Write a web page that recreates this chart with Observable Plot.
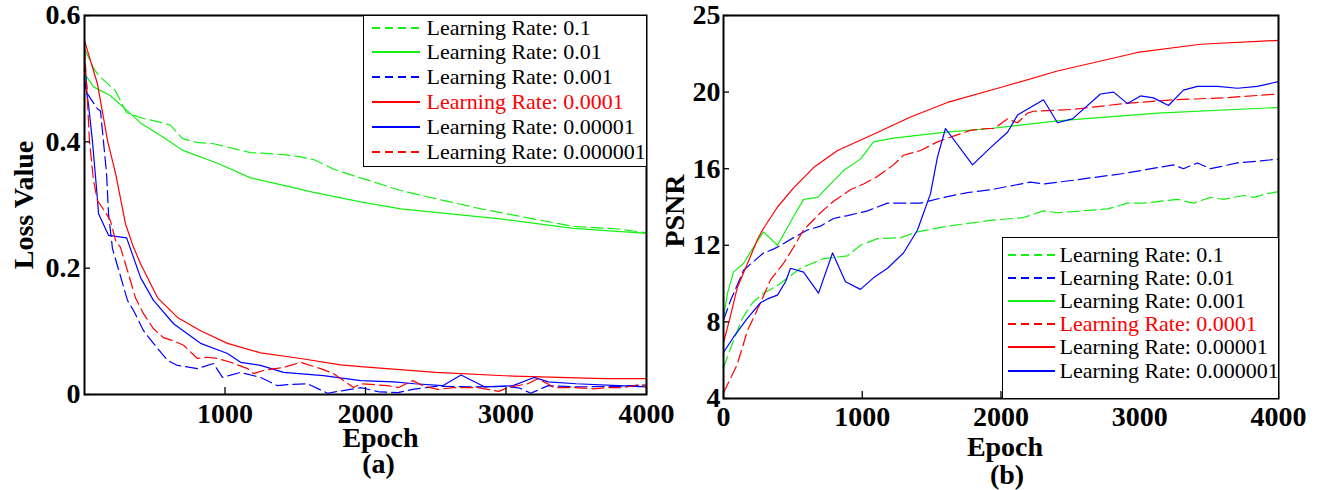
<!DOCTYPE html>
<html><head><meta charset="utf-8">
<script src="https://cdn.jsdelivr.net/npm/d3@7"></script>
<script src="https://cdn.jsdelivr.net/npm/@observablehq/plot@0.6"></script>
<style>
body{margin:0;background:#fff;}
#root{position:relative;width:1317px;height:490px;overflow:hidden;font-family:"Liberation Serif","Times New Roman",serif;background:#fff;}
.panel{position:absolute;top:0;}
.legend{position:absolute;background:#fff;border:1.5px solid #000;box-sizing:border-box;font-family:"Liberation Serif","Times New Roman",serif;}
.legend .row{position:absolute;height:24px;display:flex;align-items:center;white-space:nowrap;font-size:22px;line-height:24px;color:#000;font-family:"Liberation Serif","Times New Roman",serif;}
</style></head><body><div id="root"></div>
<script>
// ---------- tick values / labels ----------
const epochTicksA = [1000, 2000, 3000, 4000];
const epochTicksB = [0, 1000, 2000, 3000, 4000];
const lossTicks = [0, 0.2, 0.4, 0.6];
const lossTickLabels = ["0", "0.2", "0.4", "0.6"];
const psnrTicks = [4, 8, 12, 16, 20, 24];
const psnrTickLabels = ["4", "8", "12", "16", "20", "25"];
const rates = ["0.1", "0.01", "0.001", "0.0001", "0.00001", "0.000001"];

// ---------- (a) loss curves: [epoch, loss] ----------
const loss_0_1 = [[0,0.547],[64,0.517],[100,0.505],[220,0.481],[300,0.446],[420,0.437],[560,0.43],[613,0.426],[698,0.405],[800,0.399],[920,0.397],[1180,0.383],[1400,0.38],[1520,0.377],[1630,0.372],[1700,0.365],[1770,0.357],[1920,0.346],[2250,0.323],[2500,0.31],[2820,0.294],[3100,0.282],[3480,0.266],[3800,0.262],[4000,0.256]];
const loss_0_01 = [[0,0.508],[64,0.487],[185,0.473],[306,0.449],[399,0.43],[541,0.41],[705,0.386],[947,0.366],[1182,0.343],[1417,0.331],[1630,0.32],[1966,0.305],[2250,0.294],[2960,0.278],[3480,0.263],[4000,0.255]];
const loss_0_001 = [[0,0.53],[21,0.476],[93,0.452],[114,0.449],[157,0.35],[171,0.286],[199,0.231],[306,0.149],[349,0.133],[420,0.101],[491,0.081],[591,0.054],[662,0.046],[804,0.041],[918,0.049],[982,0.027],[1111,0.035],[1253,0.027],[1374,0.014],[1467,0.016],[1588,0.017],[1730,0.002],[1966,0.011],[2100,0.004],[2230,0.003],[2336,0.008],[2500,0.013],[2800,0.012],[3000,0.013],[3100,0.01],[3176,0.002],[3300,0.014],[3500,0.012],[3800,0.013],[4000,0.015]];
const loss_0_0001 = [[0,0.56],[92,0.492],[164,0.402],[221,0.35],[292,0.27],[349,0.233],[399,0.207],[520,0.153],[662,0.122],[826,0.101],[1018,0.081],[1253,0.066],[1538,0.057],[1823,0.047],[1966,0.044],[2500,0.035],[3055,0.029],[3700,0.025],[4000,0.025]];
const loss_0_00001 = [[0,0.5],[28,0.46],[57,0.4],[92,0.31],[100,0.286],[171,0.252],[300,0.248],[399,0.185],[491,0.149],[634,0.112],[826,0.081],[1018,0.065],[1111,0.051],[1253,0.046],[1417,0.035],[1700,0.03],[1966,0.022],[2200,0.02],[2350,0.017],[2550,0.014],[2680,0.031],[2850,0.012],[3050,0.014],[3200,0.027],[3300,0.02],[3500,0.017],[3800,0.014],[4000,0.012]];
const loss_0_000001 = [[0,0.55],[21,0.465],[35,0.402],[64,0.339],[92,0.307],[150,0.288],[185,0.275],[221,0.244],[256,0.233],[306,0.196],[363,0.153],[420,0.128],[491,0.104],[562,0.09],[634,0.085],[705,0.078],[804,0.057],[875,0.059],[947,0.057],[1040,0.051],[1161,0.041],[1203,0.033],[1274,0.038],[1417,0.043],[1467,0.046],[1538,0.051],[1680,0.041],[1773,0.033],[1915,0.011],[1966,0.017],[2037,0.016],[2158,0.014],[2236,0.011],[2336,0.022],[2407,0.014],[2514,0.008],[2628,0.011],[2799,0.011],[2949,0.005],[3013,0.011],[3155,0.017],[3226,0.025],[3297,0.017],[3340,0.011],[3482,0.011],[3625,0.009],[3725,0.011],[3839,0.011],[3960,0.016],[4000,0.011]];

// ---------- (b) PSNR curves: [epoch, psnr] ----------
const psnr_0_1 = [[0,5.6],[65,6.9],[137,8.2],[209,9.0],[288,9.5],[389,9.9],[555,10.8],[720,11.3],[894,11.45],[987,12.0],[1110,12.35],[1276,12.4],[1398,12.7],[1614,13.0],[1924,13.3],[2162,13.45],[2306,13.8],[2407,13.7],[2768,13.9],[2912,14.2],[3027,14.2],[3272,14.4],[3387,14.2],[3510,14.5],[3604,14.4],[3748,14.6],[3820,14.5],[3921,14.7],[4000,14.8]];
const psnr_0_01 = [[0,8.1],[50,9.1],[122,10.3],[144,10.7],[288,11.6],[360,11.8],[411,12.0],[505,12.4],[605,12.8],[699,13.0],[793,13.4],[894,13.55],[1038,13.8],[1182,14.2],[1276,14.2],[1420,14.2],[1585,14.5],[1758,14.75],[1924,14.9],[2213,15.3],[2306,15.2],[2523,15.4],[2883,15.75],[3243,16.2],[3315,16.0],[3416,16.3],[3510,16.0],[3704,16.3],[4000,16.5]];
const psnr_0_001 = [[0,8.2],[29,9.5],[72,10.6],[144,11.05],[216,11.9],[288,12.7],[389,12.0],[505,13.5],[577,14.4],[678,14.5],[865,15.9],[987,16.5],[1081,17.4],[1225,17.6],[1585,17.9],[1924,18.1],[2407,18.5],[3128,18.9],[4000,19.2]];
const psnr_0_0001 = [[0,4.3],[100,5.8],[173,7.55],[267,9.0],[339,10.2],[432,11.05],[505,11.9],[577,12.8],[699,13.7],[793,14.3],[915,14.9],[1009,15.2],[1110,15.6],[1225,16.2],[1297,16.7],[1420,16.95],[1542,17.4],[1657,17.7],[1780,18.0],[1902,18.1],[1950,18.1],[2047,18.6],[2119,18.4],[2191,18.9],[2234,19.0],[2523,19.1],[2883,19.4],[3243,19.6],[3604,19.7],[4000,19.9]];
const psnr_0_00001 = [[0,6.9],[50,8.3],[100,9.8],[173,11.05],[245,12.3],[281,12.8],[389,14.0],[505,15.0],[649,16.06],[822,16.95],[1081,17.8],[1348,18.7],[1614,19.46],[1996,20.24],[2407,21.1],[2984,22.07],[3438,22.5],[4000,22.7]];
const psnr_0_000001 = [[0,6.4],[72,7.2],[173,8.2],[267,9.0],[317,9.2],[389,9.4],[447,10.1],[483,10.8],[577,10.6],[685,9.5],[786,11.6],[879,10.1],[987,9.7],[1081,10.3],[1182,10.8],[1297,11.6],[1398,12.8],[1492,14.7],[1542,16.6],[1600,18.1],[1795,16.2],[1924,17.1],[2047,17.9],[2119,18.8],[2306,19.6],[2407,18.4],[2515,18.6],[2717,19.9],[2811,20.0],[2912,19.4],[3005,19.8],[3099,19.7],[3207,19.3],[3315,20.1],[3416,20.3],[3560,20.3],[3704,20.2],[3848,20.3],[4000,20.55]];

// ---------- styles ----------
const GREEN = "#14f014", BLUE = "#0000ff", RED = "#ff0000";
const DASH = "12,5";
const seriesA = [
  {rate: rates[0], data: loss_0_1, color: GREEN, dashed: true},
  {rate: rates[1], data: loss_0_01, color: GREEN, dashed: false},
  {rate: rates[2], data: loss_0_001, color: BLUE, dashed: true},
  {rate: rates[3], data: loss_0_0001, color: RED, dashed: false},
  {rate: rates[4], data: loss_0_00001, color: BLUE, dashed: false},
  {rate: rates[5], data: loss_0_000001, color: RED, dashed: true}
];
const seriesB = [
  {rate: rates[0], data: psnr_0_1, color: GREEN, dashed: true},
  {rate: rates[1], data: psnr_0_01, color: BLUE, dashed: true},
  {rate: rates[2], data: psnr_0_001, color: GREEN, dashed: false},
  {rate: rates[3], data: psnr_0_0001, color: RED, dashed: true},
  {rate: rates[4], data: psnr_0_00001, color: RED, dashed: false},
  {rate: rates[5], data: psnr_0_000001, color: BLUE, dashed: false}
];

const FONT = "'Liberation Serif','Times New Roman',serif";
const bold = {fontSize: 28, fontWeight: "bold", fontFamily: FONT};

function lineMarks(series) {
  return series.map(s => Plot.line(s.data, {
    x: d => d[0], y: d => d[1], stroke: s.color, strokeWidth: 1.2,
    strokeDasharray: s.dashed ? DASH : null, curve: "linear"
  }));
}

function panel(o) {
  const fw = o.width - o.ml - o.mr, fh = o.height - o.mt - o.mb;
  return Plot.plot({
    width: o.width, height: o.height,
    marginLeft: o.ml, marginRight: o.mr, marginTop: o.mt, marginBottom: o.mb,
    style: {background: "transparent", overflow: "visible", fontFamily: FONT},
    x: {domain: [0, 4000]},
    y: {domain: o.ydomain},
    marks: [
      ...lineMarks(o.series),
      Plot.frame({stroke: "#000", strokeWidth: 2}),
      Plot.tickX(o.xticks, {x: d => d, stroke: "#000", strokeWidth: 1.3, insetTop: fh - 7}),
      Plot.tickY(o.yticks, {y: d => d, stroke: "#000", strokeWidth: 1.3, insetRight: fw - 6}),
      Plot.axisX(o.xticks, {tickSize: 0, tickPadding: o.xpad, label: null, tickFormat: d => String(d), ...bold}),
      Plot.axisY(o.yticks, {tickSize: 0, tickPadding: o.ypad, label: null, tickFormat: d => o.ylabels[o.yticks.indexOf(d)], ...bold}),
      Plot.text([o.xlabel], {text: d => d, frameAnchor: "bottom", textAnchor: "middle", lineAnchor: "middle", dx: o.xldx, dy: o.xldy, fill: "#000", ...bold}),
      Plot.text([o.sub], {text: d => d, frameAnchor: "bottom", textAnchor: "middle", lineAnchor: "middle", dx: o.subdx, dy: o.subdy, fill: "#000", ...bold}),
      Plot.text([o.ylabel], {text: d => d, frameAnchor: "left", rotate: -90, textAnchor: "middle", lineAnchor: "bottom", dx: o.yldx, dy: o.yldy, fill: "#000", ...bold})
    ]
  });
}

const root = document.getElementById("root");

const svgA = panel({width: 660, height: 490, ml: 84, mr: 14, mt: 15, mb: 96,
  series: seriesA, ydomain: [0, 0.6], xticks: epochTicksA, yticks: lossTicks, ylabels: lossTickLabels,
  xpad: 9, ypad: 4, xlabel: "Epoch", sub: "(a)", ylabel: "Loss Value",
  xldx: 15, xldy: 44, subdx: 13, subdy: 70, yldx: -52, yldy: 0});
svgA.classList.add("panel"); svgA.style.left = "0px";
root.appendChild(svgA);

const svgB = panel({width: 677, height: 490, ml: 83, mr: 39, mt: 15, mb: 92,
  series: seriesB, ydomain: [4, 24], xticks: epochTicksB, yticks: psnrTicks, ylabels: psnrTickLabels,
  xpad: 8, ypad: 3, xlabel: "Epoch", sub: "(b)", ylabel: "PSNR",
  xldx: 4, xldy: 49, subdx: 6, subdy: 77, yldx: -40, yldy: 4});
svgB.classList.add("panel"); svgB.style.left = "640px";
root.appendChild(svgB);

// ---------- legends ----------
function legend(series, box) {
  const div = document.createElement("div");
  div.className = "legend";
  Object.assign(div.style, {left: box.left + "px", top: box.top + "px", width: box.width + "px", height: box.height + "px"});
  series.forEach((s, i) => {
    const row = document.createElement("div");
    row.className = "row";
    row.style.left = (box.sampleX - 1.5) + "px";
    row.style.top = (box.first + i * box.step - 12 - 1.5) + "px";
    const sw = box.sampleW;
    row.innerHTML = `<svg width="${sw}" height="6" style="flex:none"><line x1="0" x2="${sw}" y1="3" y2="3" stroke="${s.color}" stroke-width="2" ${s.dashed ? 'stroke-dasharray="8,5"' : ""}/></svg>` +
      `<span style="margin-left:${box.gap}px;font-family:'Liberation Serif','Times New Roman',serif;color:${s.rate === rates[3] ? RED : "#000"}">Learning Rate: ${s.rate}</span>`;
    div.appendChild(row);
  });
  root.appendChild(div);
}
legend(seriesA, {left: 363, top: 15, width: 284, height: 152, first: 13, step: 24.8, sampleX: 9, sampleW: 48, gap: 7});
legend(seriesB, {left: 1002, top: 237, width: 277, height: 162, first: 18, step: 23.2, sampleX: 6, sampleW: 47, gap: 5});
</script></body></html>
